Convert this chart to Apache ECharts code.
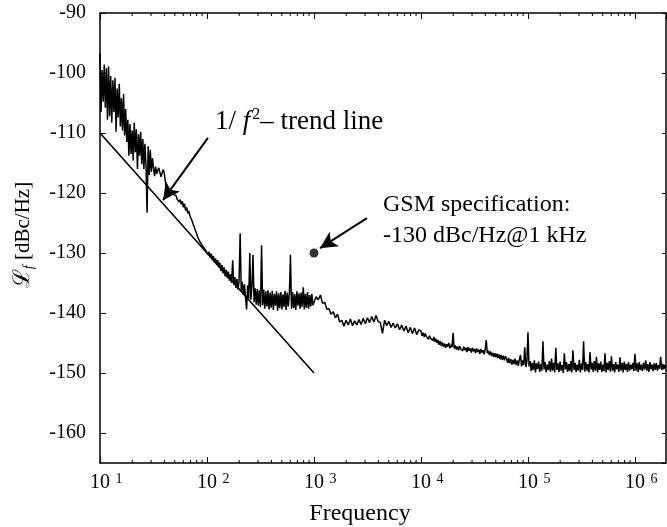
<!DOCTYPE html>
<html>
<head>
<meta charset="utf-8">
<script src="https://cdn.jsdelivr.net/npm/echarts@6/dist/echarts.min.js"></script>
<style>
html,body{margin:0;padding:0;background:#fff;}
#chart{width:667px;height:527px;}
</style>
</head>
<body>
<div id="chart"></div>
<script>
// ---------- data ----------
const freqHz = [
  // 10 Hz .. 100 Hz
  10.00, 10.23, 10.47, 10.72, 10.96, 11.22, 11.48, 11.75, 12.02, 12.30, 12.59, 12.88, 13.18, 13.49, 13.80, 14.13, 14.45, 14.79, 15.14, 15.49,
  15.85, 16.22, 16.60, 16.98, 17.38, 17.78, 18.20, 18.62, 19.05, 19.50, 19.95, 20.42, 20.89, 21.38, 21.88, 22.39, 22.91, 23.44, 23.99, 24.55,
  25.12, 25.70, 26.30, 26.92, 27.54, 28.18, 28.84, 29.51, 30.20, 30.90, 31.62, 32.36, 33.11, 33.88, 34.67, 35.48, 36.31, 37.15, 38.02, 38.90,
  39.81, 40.74, 41.69, 42.66, 43.65, 44.67, 45.71, 46.77, 47.86, 48.98, 50.12, 51.29, 52.48, 53.70, 54.95, 56.23, 57.54, 58.88, 60.26, 61.66,
  63.10, 64.57, 66.07, 67.61, 69.18, 70.79, 72.44, 74.13, 75.86, 77.62, 79.43, 81.28, 83.18, 85.11, 87.10, 89.13, 91.20, 93.33, 95.50, 97.72,
  // 100 Hz .. 1 kHz
  100.0, 102.3, 104.7, 107.2, 109.6, 112.2, 114.8, 117.5, 120.2, 123.0, 125.9, 128.8, 131.8, 134.9, 138.0, 141.3, 144.5, 147.9, 151.4, 154.9,
  158.5, 162.2, 166.0, 169.8, 173.8, 177.8, 182.0, 186.2, 190.5, 195.0, 199.5, 204.2, 208.9, 213.8, 218.8, 223.9, 229.1, 234.4, 239.9, 245.5,
  251.2, 257.0, 263.0, 269.2, 275.4, 281.8, 288.4, 295.1, 302.0, 309.0, 316.2, 323.6, 331.1, 338.8, 346.7, 354.8, 363.1, 371.5, 380.2, 389.0,
  398.1, 407.4, 416.9, 426.6, 436.5, 446.7, 457.1, 467.7, 478.6, 489.8, 501.2, 512.9, 524.8, 537.0, 549.5, 562.3, 575.4, 588.8, 602.6, 616.6,
  631.0, 645.7, 660.7, 676.1, 691.8, 707.9, 724.4, 741.3, 758.6, 776.2, 794.3, 812.8, 831.8, 851.1, 871.0, 891.3, 912.0, 933.3, 955.0, 977.2,
  // 1 kHz .. 10 kHz
  1000, 1047, 1096, 1148, 1202, 1259, 1318, 1380, 1445, 1514, 1585, 1660, 1738, 1820, 1905, 1995, 2089, 2188, 2291, 2399, 2512, 2630, 2754, 2884, 3020,
  3162, 3311, 3467, 3631, 3802, 3981, 4169, 4365, 4571, 4786, 5012, 5248, 5495, 5754, 6026, 6310, 6607, 6918, 7244, 7586, 7943, 8318, 8710, 9120, 9550,
  // 10 kHz .. 100 kHz
  10000, 10230, 10470, 10720, 10960, 11220, 11480, 11750, 12020, 12300, 12590, 12880, 13180, 13490, 13800, 14130, 14450, 14790, 15140, 15490,
  15850, 16220, 16600, 16980, 17380, 17780, 18200, 18620, 19050, 19500, 19950, 20420, 20890, 21380, 21880, 22390, 22910, 23440, 23990, 24550,
  25120, 25700, 26300, 26920, 27540, 28180, 28840, 29510, 30200, 30900, 31620, 32360, 33110, 33880, 34670, 35480, 36310, 37150, 38020, 38900,
  39810, 40740, 41690, 42660, 43650, 44670, 45710, 46770, 47860, 48980, 50120, 51290, 52480, 53700, 54950, 56230, 57540, 58880, 60260, 61660,
  63100, 64570, 66070, 67610, 69180, 70790, 72440, 74130, 75860, 77620, 79430, 81280, 83180, 85110, 87100, 89130, 91200, 93330, 95500, 97720,
  // 100 kHz .. 1 MHz
  100000, 102300, 104700, 107200, 109600, 112200, 114800, 117500, 120200, 123000, 125900, 128800, 131800, 134900, 138000, 141300, 144500, 147900, 151400, 154900,
  158500, 162200, 166000, 169800, 173800, 177800, 182000, 186200, 190500, 195000, 199500, 204200, 208900, 213800, 218800, 223900, 229100, 234400, 239900, 245500,
  251200, 257000, 263000, 269200, 275400, 281800, 288400, 295100, 302000, 309000, 316200, 323600, 331100, 338800, 346700, 354800, 363100, 371500, 380200, 389000,
  398100, 407400, 416900, 426600, 436500, 446700, 457100, 467700, 478600, 489800, 501200, 512900, 524800, 537000, 549500, 562300, 575400, 588800, 602600, 616600,
  631000, 645700, 660700, 676100, 691800, 707900, 724400, 741300, 758600, 776200, 794300, 812800, 831800, 851100, 871000, 891300, 912000, 933300, 955000, 977200,
  // 1 MHz ..
  1000000, 1023000, 1047000, 1072000, 1096000, 1122000, 1148000, 1175000, 1202000, 1230000, 1259000, 1288000, 1318000, 1349000, 1380000,
  1413000, 1445000, 1479000, 1514000, 1549000, 1585000, 1622000, 1660000, 1698000, 1738000, 1778000, 1820000, 1862000, 1905000, 1950000
];
const noiseDb = [
  // 10 Hz .. 100 Hz
  -96.7, -106.5, -99.5, -104.8, -98.6, -105.8, -99.2, -107.8, -98.9, -107.2,
  -100.5, -108.3, -101.2, -106.5, -100.8, -109.8, -102.6, -107.4, -101.8, -108.9,
  -104.2, -109.6, -103.5, -110.4, -106, -111.5, -107.8, -113.8, -108.5, -113.5,
  -109.6, -114.6, -108.3, -113.2, -109.4, -116, -110.2, -113.8, -109.8, -115.2,
  -111, -116, -111.8, -115.6, -123.3, -112.2, -117, -112.8, -116.5, -114.2,
  -115.8, -117.2, -115.6, -116.8, -116.2, -115.8, -116.6, -117.3, -116.7, -116.1,
  -116.6, -118, -119.2, -119.3, -119.6, -119.5, -119.8, -120.1, -119.9, -120.3,
  -120.6, -120.4, -121, -120.8, -121.5, -121.1, -121.9, -121.4, -122.4, -121.8,
  -122.9, -122.4, -123.4, -123, -123.8, -124.2, -124.6, -125.2, -125.6, -126.2,
  -126.6, -127.2, -127.4, -128, -128.1, -128.6, -128.5, -129.1, -129.0, -129.6,
  // 100 Hz .. 1 kHz
  -129.4, -130.3, -129.8, -130.8, -130.1, -131.2, -130.5, -131.6, -130.9, -132,
  -131.2, -132.4, -131.6, -133, -132, -133.4, -132.4, -133.9, -132.8, -134.2,
  -133.1, -134.6, -133.5, -135, -131.2, -135.3, -134, -135.8, -134.3, -136.1,
  -134.6, -126.7, -136.4, -134.8, -137, -135.2, -137.4, -139.4, -135.4, -137.6,
  -130, -137.8, -135.6, -130.3, -138.2, -135.9, -138.6, -136, -138.8, -136.2,
  -139, -128.7, -138.7, -136.1, -139.3, -136.4, -138.9, -136.2, -139.4, -136.6,
  -139.1, -136.3, -139.5, -136.8, -138.8, -136.4, -139.6, -136.7, -139.2, -136.5,
  -139.4, -136.9, -139.0, -136.3, -139.5, -136.6, -138.9, -136.8, -130.3, -139.3,
  -136.5, -139.2, -136.9, -139.5, -136.4, -138.8, -136.7, -139.3, -136.6, -139.0,
  -135.7, -139.4, -136.8, -139.1, -136.5, -139.3, -137, -138.9, -136.8, -138.7,
  // 1 kHz .. 10 kHz
  -139.0, -137.3, -137.8, -137.0, -138.4, -138.2, -139.4, -139.3, -140.2, -139.8,
  -140.8, -140.2, -141.5, -141.2, -142.2, -141.2, -142.0, -141.0, -142.1, -141.3,
  -142.0, -141.1, -141.9, -140.9, -141.8, -140.8, -141.6, -140.6, -141.5, -140.4,
  -141.4, -141.6, -143.4, -141.2, -142.1, -141.4, -142.4, -141.7, -142.5, -141.8,
  -142.8, -142.0, -143.0, -142.2, -143.3, -142.4, -143.4, -142.5, -143.6, -142.8,
  // 10 kHz .. 100 kHz
  -143.0, -143.8, -143.3, -144.0, -143.4, -143.9, -143.6, -144.4, -143.8, -144.2,
  -143.9, -144.6, -144.0, -144.8, -144.3, -145.0, -144.5, -145.3, -144.7, -145.5,
  -144.9, -145.6, -145.1, -145.8, -145.2, -145.6, -145.0, -145.9, -145.3, -145.7,
  -143.3, -145.9, -145.4, -146.1, -145.6, -146.2, -145.5, -146.0, -145.7, -146.3,
  -145.6, -146.2, -145.8, -146.5, -145.7, -146.3, -145.9, -146.6, -145.8, -146.4,
  -146.0, -146.7, -145.9, -146.5, -146.1, -146.8, -146.0, -146.6, -146.2, -146.9,
  -146.1, -144.5, -146.7, -146.3, -147.0, -146.4, -147.2, -146.6, -147.3, -146.7,
  -147.4, -146.8, -147.5, -146.9, -147.7, -147.0, -147.8, -147.1, -147.9, -147.2,
  -147.6, -148.3, -147.5, -148.4, -147.7, -148.6, -147.8, -148.5, -147.6, -148.7,
  -147.9, -148.8, -147.7, -147.0, -148.9, -147.9, -148.7, -145.7, -149.0, -148.1,
  // 100 kHz .. 1 MHz
  -143.2, -148.9, -148.0, -149.7, -148.3, -149.5, -147.9, -149.9, -148.4, -149.3,
  -148.1, -149.8, -148.5, -149.6, -144.7, -149.4, -148.2, -149.9, -148.6, -149.5,
  -148.0, -149.8, -147.6, -149.6, -148.3, -149.9, -145.8, -149.5, -148.4, -149.8,
  -148.1, -149.6, -148.7, -150.0, -146.7, -149.4, -148.2, -149.8, -148.5, -149.7,
  -148.0, -149.9, -146.2, -149.5, -148.3, -149.8, -148.6, -149.6, -147.8, -149.9,
  -148.4, -149.5, -144.7, -149.8, -148.2, -149.6, -148.5, -149.9, -146.5, -149.4,
  -148.3, -149.8, -148.0, -149.6, -147.3, -149.9, -148.4, -149.5, -148.1, -149.8,
  -148.6, -149.7, -146.7, -149.9, -148.3, -149.5, -148.0, -149.8, -147.2, -149.6,
  -148.5, -149.9, -148.2, -149.4, -148.6, -149.8, -147.4, -149.6, -148.3, -149.9,
  -148.1, -149.5, -148.5, -149.8, -148.2, -149.6, -148.6, -149.4, -148.3, -149.7,
  // 1 MHz ..
  -146.8, -149.6, -148.4, -149.8, -148.2, -149.5, -148.6, -149.7, -148.3, -149.4,
  -147.9, -149.6, -148.5, -149.8, -148.2, -149.4, -148.6, -149.7, -148.4, -149.5,
  -148.3, -149.6, -148.7, -149.3, -147.3, -149.5, -148.5, -149.4, -148.6, -149.2
];
const trendFreq = [10, 1000];
const trendDb = [-110, -150];
const specFreq = [1000];
const specDb = [-130];
const xMin = 10, xMax = 1950000;
const yMin = -165, yMax = -90;
const xMajorTicks = [10, 100, 1000, 10000, 100000, 1000000];
const minorMultipliers = [2, 3, 4, 5, 6, 7, 8, 9];
const arrowTrend = { from: [102, -110.8], to: [38.8, -121.2] };
const arrowSpec = { from: [3126, -124.2], to: [1138, -129.2] };

// ---------- build ----------
const FONT = '"Liberation Serif", "Times New Roman", "DejaVu Serif", serif';
const noiseData = freqHz.map((f, i) => [f, noiseDb[i]]);
const trendData = trendFreq.map((f, i) => [f, trendDb[i]]);
const specData = specFreq.map((f, i) => [f, specDb[i]]);
const minorData = [];
xMajorTicks.forEach(d => minorMultipliers.forEach(m => {
  const v = d * m;
  if (v < xMax) minorData.push([v, yMin]);
}));

function xLabel(v) {
  const e = Math.round(Math.log10(v));
  if (Math.abs(Math.pow(10, e) - v) > 1e-6 * v) return '';
  return '{p|}{b|10}{s|' + e + '}';
}

const chart = echarts.init(document.getElementById('chart'), null, { renderer: 'canvas' });
const axisLineStyle = { color: '#000', width: 1.5 };
const option = {
  animation: false,
  backgroundColor: '#fff',
  grid: { left: 100, right: 1, top: 13, bottom: 64, containLabel: false },
  xAxis: [
    {
      type: 'log', logBase: 10, min: xMin, max: xMax, position: 'bottom',
      axisLine: { show: true, onZero: false, lineStyle: axisLineStyle },
      axisTick: { show: true, inside: true, length: 6, lineStyle: { color: '#000', width: 1 } },
      splitLine: { show: false },
      axisLabel: {
        margin: 9, color: '#000', formatter: xLabel, showMaxLabel: false,
        rich: {
          p: { width: 12, fontSize: 20, fontFamily: FONT },
          b: { fontSize: 20, fontFamily: FONT, color: '#000', lineHeight: 22 },
          s: { fontSize: 14, fontFamily: FONT, color: '#000', width: 6, padding: [0, 0, 0, 6], verticalAlign: 'top', lineHeight: 14 }
        }
      }
    },
    {
      type: 'log', logBase: 10, min: xMin, max: xMax, position: 'top',
      axisLine: { show: true, onZero: false, lineStyle: axisLineStyle },
      axisTick: { show: true, inside: true, length: 6, lineStyle: { color: '#000', width: 1 } },
      splitLine: { show: false },
      axisLabel: { show: false }
    }
  ],
  yAxis: [
    {
      type: 'value', min: yMin, max: yMax, splitNumber: 8, position: 'left',
      axisLine: { show: true, onZero: false, lineStyle: axisLineStyle },
      axisTick: { show: true, inside: true, length: 6, lineStyle: { color: '#000', width: 1 } },
      splitLine: { show: false },
      axisLabel: {
        margin: 14, color: '#000', fontSize: 20, fontFamily: FONT, showMinLabel: false,
        formatter: v => (v === yMin ? '' : String(v))
      }
    },
    {
      type: 'value', min: yMin, max: yMax, splitNumber: 8, position: 'right',
      axisLine: { show: true, onZero: false, lineStyle: axisLineStyle },
      axisTick: { show: true, inside: true, length: 4, lineStyle: { color: '#000', width: 1 } },
      splitLine: { show: false },
      axisLabel: { show: false }
    }
  ],
  series: [
    {
      name: 'phase noise', type: 'line', data: noiseData, showSymbol: false, symbol: 'none',
      lineStyle: { color: '#000', width: 1.5 }, z: 3
    },
    {
      name: 'trend', type: 'line', data: trendData, showSymbol: false, symbol: 'none',
      lineStyle: { color: '#000', width: 1.6 }, z: 3
    },
    {
      name: 'GSM spec', type: 'scatter', data: specData, symbol: 'circle', symbolSize: 9,
      itemStyle: { color: '#000' }, z: 4,
      markLine: {
        silent: true, animation: false,
        symbol: ['none', 'arrow'], symbolSize: [13, 17],
        lineStyle: { color: '#000', width: 2, type: 'solid' },
        label: { show: false },
        emphasis: { disabled: true },
        data: [
          [{ coord: arrowTrend.from }, { coord: arrowTrend.to }],
          [{ coord: arrowSpec.from }, { coord: arrowSpec.to }]
        ]
      }
    },
    {
      name: 'minor ticks', type: 'custom', data: minorData, clip: false, silent: true, z: 5,
      encode: { x: 0, y: 1 },
      renderItem: function (params, api) {
        const v = api.value(0);
        const pb = api.coord([v, yMin]);
        const pt = api.coord([v, yMax]);
        return {
          type: 'group',
          children: [
            { type: 'line', shape: { x1: pb[0], y1: pb[1], x2: pb[0], y2: pb[1] - 3 }, style: { stroke: '#000', lineWidth: 1 } },
            { type: 'line', shape: { x1: pt[0], y1: pt[1], x2: pt[0], y2: pt[1] + 3 }, style: { stroke: '#000', lineWidth: 1 } }
          ]
        };
      }
    }
  ],
  graphic: [
    {
      type: 'text', x: 360, y: 514, silent: true,
      style: { text: 'Frequency', font: '24px ' + FONT, fill: '#000', align: 'center', verticalAlign: 'middle' }
    },
    {
      type: 'text', x: 23, y: 235, rotation: Math.PI / 2, silent: true,
      style: {
        text: '{l|ℒ}{f|f}{t| [dBc/Hz]}', align: 'center', verticalAlign: 'middle', fill: '#000',
        rich: {
          l: { fontSize: 23, fontFamily: FONT, fill: '#000', lineHeight: 26 },
          f: { fontSize: 14, fontFamily: FONT, fontStyle: 'italic', fill: '#000', verticalAlign: 'bottom', lineHeight: 26 },
          t: { fontSize: 21, fontFamily: FONT, fill: '#000', lineHeight: 26 }
        }
      }
    },
    {
      type: 'text', x: 215, y: 122, silent: true,
      style: {
        text: '{n|1/ }{i|f}{s|2}{n|– trend line}', align: 'left', verticalAlign: 'middle', fill: '#000',
        rich: {
          n: { fontSize: 27, fontFamily: FONT, fill: '#000', lineHeight: 30 },
          i: { fontSize: 27, fontFamily: FONT, fontStyle: 'italic', fill: '#000', lineHeight: 30, padding: [0, 2, 0, 0] },
          s: { fontSize: 16, fontFamily: FONT, fill: '#000', verticalAlign: 'top', lineHeight: 16 }
        }
      }
    },
    {
      type: 'text', x: 383, y: 205, silent: true,
      style: { text: 'GSM specification:', font: '24px ' + FONT, fill: '#000', align: 'left', verticalAlign: 'middle' }
    },
    {
      type: 'text', x: 383, y: 236, silent: true,
      style: { text: '-130 dBc/Hz@1 kHz', font: '24px ' + FONT, fill: '#000', align: 'left', verticalAlign: 'middle' }
    }
  ]
};
chart.setOption(option);
</script>
</body>
</html>
